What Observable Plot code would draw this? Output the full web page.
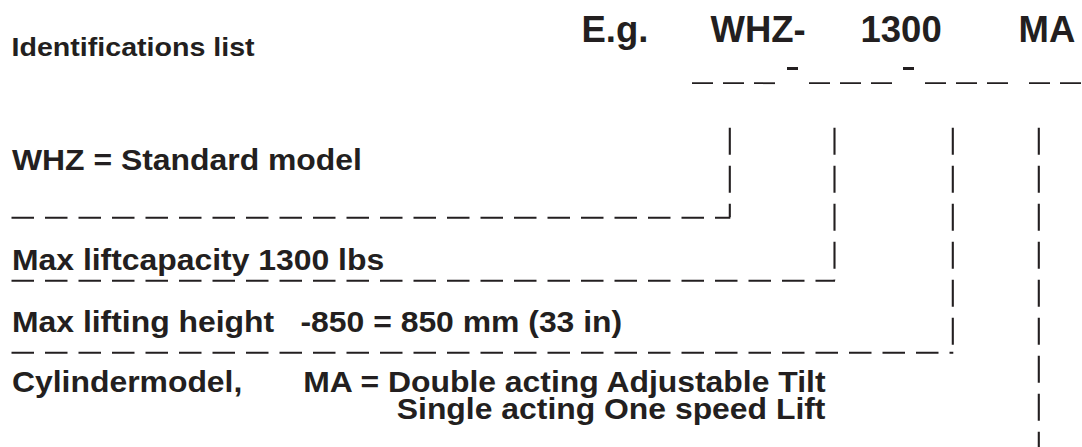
<!DOCTYPE html>
<html>
<head>
<meta charset="utf-8">
<script src="https://cdn.jsdelivr.net/npm/d3@7"></script>
<script src="https://cdn.jsdelivr.net/npm/@observablehq/plot@0.6"></script>
<style>
  html, body { margin: 0; padding: 0; background: #fff; }
  #chart svg { display: block; }
</style>
</head>
<body>
<div id="chart"></div>
<script>
// ---- Diagram content (coordinates in the diagram's own 1082 x 447 units) ----
const titleLabel = "Identifications list";
const titleX = 11;
const titleY = 55;

const codeParts = ["E.g.", "WHZ-", "1300", "MA"];
const codeX = [581, 710, 860, 1018];
const codeY = 41.5;

const descLabels = [
  "WHZ = Standard model",
  "Max liftcapacity 1300 lbs",
  "Max lifting height",
  "-850 = 850 mm (33 in)",
  "Cylindermodel,",
  "MA = Double acting Adjustable Tilt\nSingle acting One speed Lift"
];
const descX = [11.5, 11.5, 11.5, 300, 11.5, 825];
const descY = [169.5, 269, 331.7, 331.7, 391, 418.5];
const descAnchor = ["start", "start", "start", "start", "start", "end"];

// placeholder row under the code: dashed groups and hyphens
const slotStart = [692, 809, 925, 1029];
const slotEnd = [776, 892, 1008, 1081];
const slotY = 82.7;
const hyphenStart = [787, 903];
const hyphenEnd = [798, 914];
const hyphenY = 68;

// connectors: vertical leaders from each code column down to its description line
const leaderX = [729.3, 834, 952.3, 1038.3];
const leaderTop = 127.7;
const leaderBottom = [217.3, 280.3, 352.3, 447];
// horizontal separators ending at the leader corners
const sepStart = [11.5, 11.5, 11.5];
const sepEnd = [729.3, 834, 952.3];
const sepY = [217.3, 280.3, 352.3];

const ink = "#231f20";
const font = "'Liberation Sans', Arial, Helvetica, sans-serif";
const stretch = 1.1; // the source lettering is set about 10% wider than Arial

const idx = (a) => a.map((_, i) => i);

const plot = Plot.plot({
  width: 1082,
  height: 447,
  margin: 0,
  style: { background: "#fff", color: ink, overflow: "visible" },
  x: { domain: [0, 1082], range: [0, 1082], axis: null },
  y: { domain: [0, 447], range: [0, 447], axis: null },
  marks: [
    // placeholder dashes
    Plot.ruleY(idx(slotStart), {
      y: () => slotY, x1: (i) => slotStart[i], x2: (i) => slotEnd[i],
      stroke: ink, strokeWidth: 1.8, strokeDasharray: "21,10", strokeLinecap: "butt"
    }),
    Plot.ruleY(idx(hyphenStart), {
      y: () => hyphenY, x1: (i) => hyphenStart[i], x2: (i) => hyphenEnd[i],
      stroke: ink, strokeWidth: 3
    }),
    // vertical leaders
    Plot.ruleX(idx(leaderX), {
      x: (i) => leaderX[i], y1: () => leaderTop, y2: (i) => leaderBottom[i],
      stroke: ink, strokeWidth: 2.1, strokeDasharray: "27,11", strokeLinecap: "butt"
    }),
    // horizontal separators
    Plot.ruleY(idx(sepY), {
      y: (i) => sepY[i], x1: (i) => sepStart[i], x2: (i) => sepEnd[i] + 1,
      stroke: ink, strokeWidth: 2.1, strokeDasharray: "22.5,11", strokeLinecap: "butt"
    }),
    // title
    Plot.text([titleLabel], {
      x: () => titleX, y: () => titleY, text: (d) => d,
      textAnchor: "start", lineAnchor: "bottom",
      fontSize: 26, fontWeight: "bold", fontFamily: font, fill: ink
    }),
    // big example code
    Plot.text(idx(codeParts), {
      x: (i) => codeX[i], y: () => codeY, text: (i) => codeParts[i],
      textAnchor: "start", lineAnchor: "bottom",
      fontSize: 36.5, fontWeight: "bold", fontFamily: font, fill: ink
    }),
    // descriptions
    Plot.text(idx(descLabels).filter((i) => descAnchor[i] === "start"), {
      x: (i) => descX[i], y: (i) => descY[i], text: (i) => descLabels[i],
      textAnchor: "start", lineAnchor: "bottom",
      fontSize: 29, fontWeight: "bold", fontFamily: font, fill: ink
    }),
    Plot.text(idx(descLabels).filter((i) => descAnchor[i] === "end"), {
      x: (i) => descX[i], y: (i) => descY[i], text: (i) => descLabels[i],
      textAnchor: "end", lineAnchor: "bottom", lineHeight: 27.5 / 29,
      fontSize: 29, fontWeight: "bold", fontFamily: font, fill: ink
    })
  ]
});

// widen the small lettering horizontally, anchored at each text's own origin
plot.querySelectorAll('g[font-size="29"] text, g[font-size="26"] text').forEach((t) => {
  let tr = t.getAttribute("transform");
  if (!tr) {
    const x = +(t.getAttribute("x") || 0), y = +(t.getAttribute("y") || 0);
    t.removeAttribute("x"); t.removeAttribute("y");
    tr = `translate(${x},${y})`;
  }
  t.setAttribute("transform", `${tr} scale(${stretch},1)`);
});

document.getElementById("chart").appendChild(plot);
</script>
</body>
</html>
